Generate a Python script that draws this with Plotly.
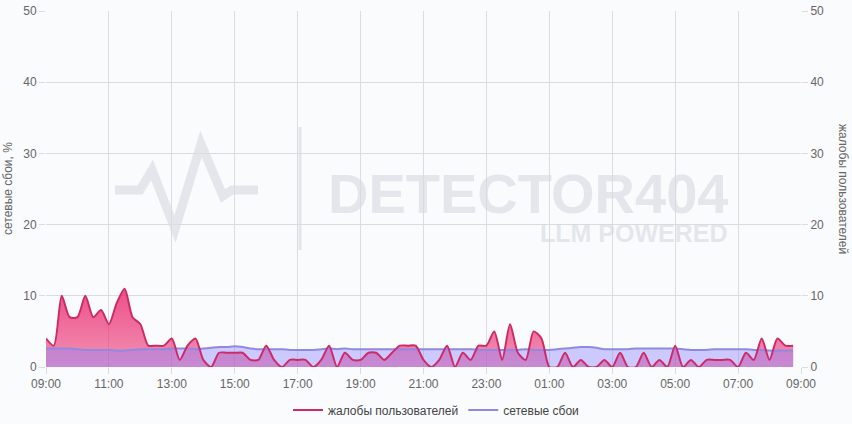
import plotly.graph_objects as go
import pandas as pd

# ---- data (15-minute steps, 09:00 -> 08:45 next day) ----
start_time = "2024-03-01 09:00"
times = pd.date_range(start_time, periods=96, freq="15min")

complaints = [4, 3, 10, 7, 7, 10, 7, 8, 6, 9, 11, 7, 6, 3, 3, 3,
              4, 1, 3, 4, 1, 0, 2, 2, 2, 2, 1, 1, 3, 1, 0, 1,
              1, 1, 0, 1, 3, 0, 2, 1, 1, 2, 2, 1, 2, 3, 3, 3,
              1, 0, 1, 3, 0, 2, 1, 3, 3, 5, 1, 6, 2, 1, 5, 4,
              0, 0, 2, 0, 1, 0, 0, 1, 0, 2, 0, 0, 2, 0, 1, 0,
              3, 0, 1, 0, 1, 1, 1, 1, 0, 2, 1, 4, 1, 4, 3, 3]

outages = [2.6, 2.6, 2.6, 2.6, 2.5, 2.4, 2.4, 2.4, 2.4, 2.3, 2.3, 2.4, 2.5, 2.5, 2.5, 2.5,
           2.6, 2.6, 2.6, 2.5, 2.6, 2.7, 2.8, 2.8, 2.9, 2.8, 2.6, 2.5, 2.5, 2.5, 2.5, 2.4,
           2.4, 2.4, 2.4, 2.5, 2.6, 2.5, 2.6, 2.5, 2.5, 2.5, 2.5, 2.5, 2.5, 2.5, 2.5, 2.5,
           2.5, 2.5, 2.5, 2.5, 2.5, 2.5, 2.5, 2.4, 2.4, 2.4, 2.4, 2.4, 2.4, 2.5, 2.4, 2.4,
           2.4, 2.5, 2.6, 2.7, 2.8, 2.8, 2.7, 2.5, 2.5, 2.5, 2.5, 2.6, 2.6, 2.6, 2.6, 2.6,
           2.6, 2.5, 2.4, 2.4, 2.4, 2.5, 2.5, 2.5, 2.5, 2.5, 2.4, 2.4, 2.3, 2.3, 2.3, 2.3]

y_ticks = [0, 10, 20, 30, 40, 50]
name_complaints = "жалобы пользователей"
name_outages = "сетевые сбои"
left_title = "сетевые сбои, %"
right_title = "жалобы пользователей"

PINK = "#cc2b68"
PURPLE = "#9189e0"
GRID = "#dcdcdc"
TXT = "#666666"
WM = "rgba(214,217,226,0.62)"
FONT = "Liberation Sans, Arial, sans-serif"

W, H = 852, 424
ML, MR, MT, MB = 46, 51, 11, 57
PW, PH = W - ML - MR, H - MT - MB


def px(x):
    return (x - ML) / PW


def py(y):
    return (H - MB - y) / PH


fig = go.Figure()

# fills first
fig.add_trace(go.Scatter(
    x=times, y=complaints, mode="lines",
    line=dict(width=0, shape="spline", smoothing=0.7, color=PINK),
    fill="tozeroy",
    fillgradient=dict(type="vertical", start=0, stop=12,
                      colorscale=[[0, "rgba(233,30,99,0.48)"], [1, "rgba(233,30,99,0.80)"]]),
    showlegend=False, hoverinfo="skip"))
fig.add_trace(go.Scatter(
    x=times, y=outages, mode="lines",
    line=dict(width=0, shape="spline", smoothing=0.7, color=PURPLE),
    fill="tozeroy", fillcolor="rgba(140,130,255,0.42)",
    showlegend=False, hoverinfo="skip"))
# lines
fig.add_trace(go.Scatter(
    x=times, y=outages, mode="lines", name=name_outages, legendrank=2,
    line=dict(width=2, shape="spline", smoothing=0.7, color=PURPLE)))
fig.add_trace(go.Scatter(
    x=times, y=complaints, mode="lines", name=name_complaints, legendrank=1,
    yaxis="y2",
    line=dict(width=2, shape="spline", smoothing=0.7, color=PINK)))

x0 = pd.Timestamp(start_time)
x1 = x0 + pd.Timedelta(hours=24)

axis_common = dict(
    showline=False, zeroline=False, gridwidth=1,
    ticks="outside", ticklen=6, tickcolor=GRID,
    tickfont=dict(family=FONT, size=12, color=TXT),
)

fig.update_layout(
    width=W, height=H,
    margin=dict(l=ML, r=MR, t=MT, b=MB, autoexpand=False),
    paper_bgcolor="#fafbfd", plot_bgcolor="#fafbfd",
    font=dict(family=FONT, size=12, color=TXT),
    xaxis=dict(type="date", range=[x0, x1], tick0=x0, dtick=2 * 3600 * 1000,
               tickformat="%H:%M", gridcolor=GRID, **axis_common),
    yaxis=dict(range=[0, 50], tickvals=y_ticks, gridcolor=GRID, **axis_common),
    yaxis2=dict(range=[0, 50], tickvals=y_ticks, overlaying="y", side="right",
                showgrid=False, **axis_common),
    legend=dict(orientation="h", x=px(436), xanchor="center", y=py(410), yanchor="middle",
                font=dict(family=FONT, size=12, color="#444444"),
                bgcolor="rgba(0,0,0,0)", itemwidth=30, traceorder="normal"),
    showlegend=True,
)

# axis titles
fig.add_annotation(text=left_title, xref="paper", yref="paper", x=px(8), y=py(189),
                   xanchor="center", yanchor="middle",
                   textangle=-90, showarrow=False, font=dict(family=FONT, size=12, color=TXT))
fig.add_annotation(text=right_title, xref="paper", yref="paper", x=px(843), y=py(189),
                   xanchor="center", yanchor="middle",
                   textangle=90, showarrow=False, font=dict(family=FONT, size=12, color=TXT))

# watermark
fig.add_annotation(text="DETECTOR404", xref="paper", yref="paper", x=px(730), y=py(193),
                   xanchor="right", yanchor="middle", showarrow=False, height=46, valign="middle",
                   font=dict(family=FONT, size=56, color=WM, weight=700))
fig.add_annotation(text="LLM POWERED", xref="paper", yref="paper", x=px(730), y=py(233),
                   xanchor="right", yanchor="middle", showarrow=False, height=22, valign="middle",
                   font=dict(family=FONT, size=25, color=WM, weight=700))
fig.add_shape(type="line", xref="paper", yref="paper", x0=px(300), x1=px(300),
              y0=py(127), y1=py(250), line=dict(color=WM, width=3), layer="below")
logo_pts = [(115, 190), (140, 190), (152, 170), (175, 229), (201, 144), (223, 196), (232, 190), (258, 190)]
path = "M " + " L ".join(f"{px(a):.4f} {py(b):.4f}" for a, b in logo_pts)
fig.add_shape(type="path", xref="paper", yref="paper", path=path,
              line=dict(color=WM, width=9), layer="below")

fig.write_html("out.html", config={"displayModeBar": False},
               post_script="document.body.style.margin='0px';")
